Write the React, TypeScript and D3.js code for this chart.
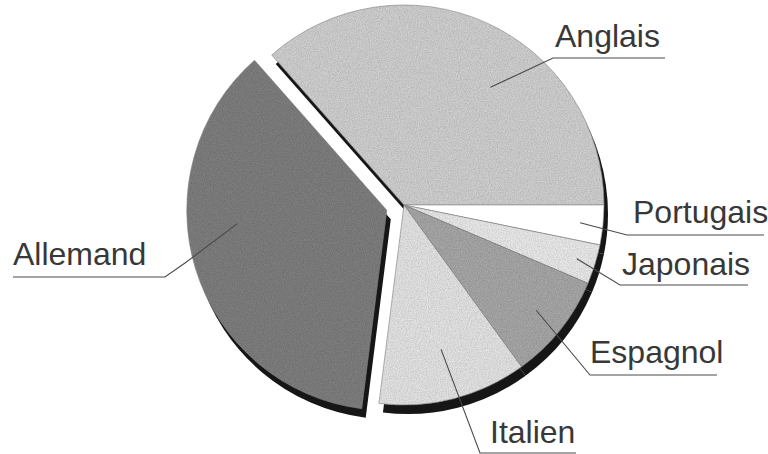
import * as d3 from 'd3';

const languages = ['Anglais', 'Portugais', 'Japonais', 'Espagnol', 'Italien', 'Allemand'];
const shares = [36.5, 3.2, 3.2, 8.6, 12, 36.5];
const fills = ['#d2d2d2', '#ffffff', '#ececec', '#a9a9a9', '#e6e6e6', '#808080'];
const exploded = 'Allemand';

const width = 768;
const height = 454;
const cx = 404;
const cy = 205;
const radius = 200;
const explodeBy = 18;
const shadow = { dx: 4, dy: 9 };

// label annotations: anchor tweak on the slice, elbow, underline end, text spot
const labelLayout: Record<string, { shift: number; r: number; elbow: [number, number][]; end: number; tx: number; ty: number }> = {
  Anglais: { shift: 12, r: 146, elbow: [[553, 58]], end: 665, tx: 555, ty: 47 },
  Portugais: { shift: 0, r: 177, elbow: [[627, 235]], end: 764, tx: 633, ty: 223 },
  Japonais: { shift: 0, r: 181, elbow: [[620, 285]], end: 748, tx: 622, ty: 275 },
  Espagnol: { shift: 0, r: 169, elbow: [[590, 375]], end: 717, tx: 590, ty: 363 },
  Italien: { shift: 0, r: 149, elbow: [[480, 453]], end: 576, tx: 490, ty: 443 },
  Allemand: { shift: 12, r: 150, elbow: [[185, 263], [165, 277]], end: 13, tx: 13, ty: 265 },
};

const data = languages.map((name, i) => ({ name, value: shares[i], fill: fills[i] }));
const total = d3.sum(shares);
const start = Math.PI / 2 - (shares[0] / total) * 2 * Math.PI;

const pie = d3
  .pie<{ name: string; value: number; fill: string }>()
  .sort(null)
  .value((d) => d.value)
  .startAngle(start)
  .endAngle(start + 2 * Math.PI);

const arc = d3.arc<d3.PieArcDatum<{ name: string; value: number; fill: string }>>().innerRadius(0).outerRadius(radius);

const slices = pie(data);

const offsetOf = (s: d3.PieArcDatum<{ name: string }>) => {
  if (s.data.name !== exploded) return [0, 0];
  const mid = (s.startAngle + s.endAngle) / 2;
  return [Math.sin(mid) * explodeBy, -Math.cos(mid) * explodeBy];
};

export default function App() {
  return (
    <svg
      width={width}
      height={height}
      style={{ position: 'absolute', left: 0, top: 0, background: '#fff' }}
      fontFamily="'Liberation Sans', Arial, sans-serif"
    >
      <defs>
        <filter id="grain">
          <feTurbulence type="fractalNoise" baseFrequency="0.9" numOctaves="2" seed="4" result="noise" />
          <feColorMatrix
            in="noise"
            type="matrix"
            values="0 0 0 0 0  0 0 0 0 0  0 0 0 0 0  0 0 0 0.5 -0.12"
            result="dark"
          />
          <feComposite in="dark" in2="SourceGraphic" operator="in" result="clip" />
          <feMerge>
            <feMergeNode in="SourceGraphic" />
            <feMergeNode in="clip" />
          </feMerge>
        </filter>
      </defs>
      <g transform={`translate(${cx},${cy})`}>
        {/* drop shadow */}
        {slices.map((s) => {
          const [ox, oy] = offsetOf(s);
          return (
            <path
              key={'sh' + s.data.name}
              d={arc(s)!}
              transform={`translate(${ox + shadow.dx},${oy + shadow.dy})`}
              fill="#161616"
            />
          );
        })}
        {slices.map((s) => {
          const [ox, oy] = offsetOf(s);
          return (
            <path
              key={s.data.name}
              d={arc(s)!}
              transform={`translate(${ox},${oy})`}
              fill={s.data.fill}
              stroke="#8a8a8a"
              strokeWidth={0.6}
              filter={s.data.fill === '#ffffff' ? undefined : 'url(#grain)'}
            />
          );
        })}
      </g>
      {slices.map((s) => {
        const lay = labelLayout[s.data.name];
        const [ox, oy] = offsetOf(s);
        const a = (s.startAngle + s.endAngle) / 2 + (lay.shift * Math.PI) / 180;
        const ax = cx + ox + Math.sin(a) * lay.r;
        const ay = cy + oy - Math.cos(a) * lay.r;
        const pts: [number, number][] = [[ax, ay], ...lay.elbow];
        const last = lay.elbow[lay.elbow.length - 1];
        pts.push([lay.end, last[1]]);
        return (
          <g key={'lab' + s.data.name}>
            <path d={d3.line()(pts)!} fill="none" stroke="#4a4a4a" strokeWidth={1.1} />
            <text x={lay.tx} y={lay.ty} fontSize={32} fill="#383838">
              {s.data.name}
            </text>
          </g>
        );
      })}
    </svg>
  );
}
